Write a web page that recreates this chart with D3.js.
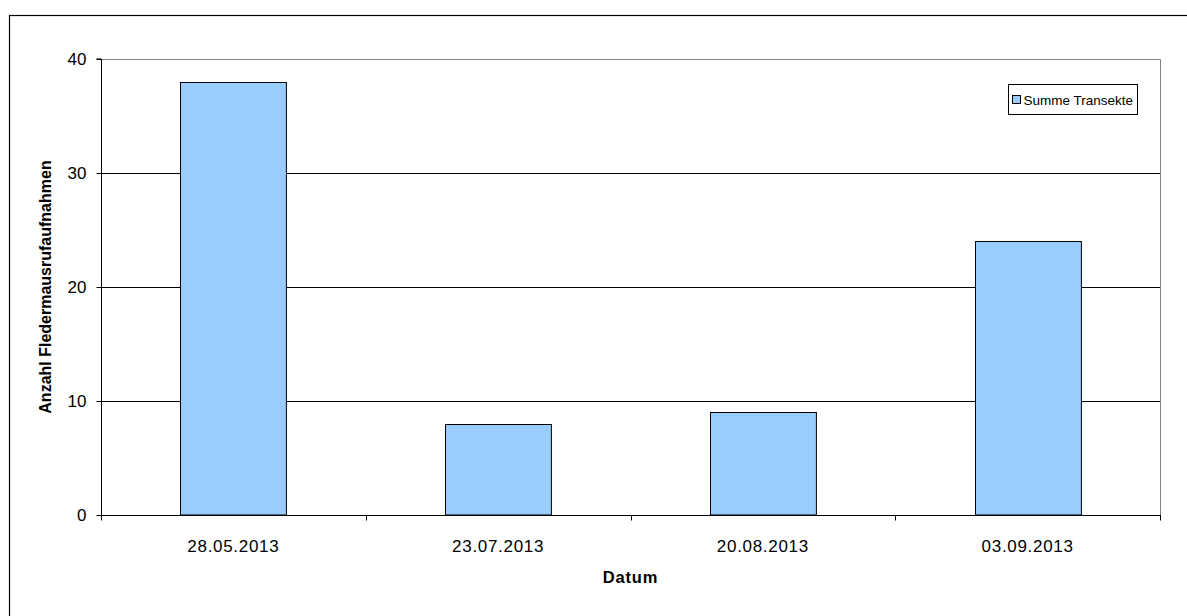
<!DOCTYPE html>
<html>
<head>
<meta charset="utf-8">
<script src="https://cdn.jsdelivr.net/npm/d3@7"></script>
<style>
  html, body { margin: 0; padding: 0; background: #fff; }
  svg { display: block; font-family: Arial, "Liberation Sans", sans-serif; }
</style>
</head>
<body>
<svg id="chart" width="1187" height="616"></svg>
<script>
// Recording dates and summed bat call counts across all transects
const dates = ["28.05.2013", "23.07.2013", "20.08.2013", "03.09.2013"];
const counts = [38, 8, 9, 24];
const yTicks = [0, 10, 20, 30, 40];
const seriesName = "Summe Transekte";
const xTitle = "Datum";
const yTitle = "Anzahl Fledermausrufaufnahmen";

const svg = d3.select("#chart");

// Outer chart frame (continues past the right and bottom edges)
svg.append("rect")
  .attr("x", 9.5).attr("y", 15.5)
  .attr("width", 1200).attr("height", 620)
  .attr("fill", "#fff").attr("stroke", "#000").attr("stroke-width", 1.2);

const plot = { left: 101, right: 1160, top: 59, bottom: 515 };

const xCat = d3.scaleBand().domain(dates).range([plot.left, plot.right]);
const y = d3.scaleLinear().domain([0, 40]).range([plot.bottom, plot.top]);

// Plot area border (top & right in gray)
svg.append("path")
  .attr("d", `M${plot.left},${plot.top + 0.5}H${plot.right + 0.5}V${plot.bottom}`)
  .attr("fill", "none").attr("stroke", "#808080").attr("stroke-width", 1);

// Horizontal gridlines
svg.append("g")
  .selectAll("line")
  .data(yTicks.filter(d => d > 0 && d < 40))
  .join("line")
  .attr("x1", plot.left).attr("x2", plot.right)
  .attr("y1", d => Math.round(y(d)) + 0.5).attr("y2", d => Math.round(y(d)) + 0.5)
  .attr("stroke", "#000").attr("stroke-width", 1);

// Bars (bar width = 40% of category, gap width 150%)
svg.append("g")
  .selectAll("rect")
  .data(counts)
  .join("rect")
  .attr("x", (d, i) => Math.round(xCat(dates[i]) + xCat.bandwidth() * 0.3) + 0.5)
  .attr("y", d => Math.round(y(d)) + 0.5)
  .attr("width", xCat.bandwidth() * 0.4)
  .attr("height", d => y(0) - Math.round(y(d)) - 0.5)
  .attr("fill", "#99ccff")
  .attr("stroke", "#000").attr("stroke-width", 1);

// Y axis
const yAxis = svg.append("g")
  .attr("transform", `translate(${plot.left + 0.5},0)`)
  .call(d3.axisLeft(y).tickValues(yTicks).tickSize(5).tickPadding(10).tickFormat(d3.format("d")));
yAxis.select(".domain").attr("d", `M-5,${plot.top}H0V${plot.bottom + 5}`).attr("stroke", "#000");
yAxis.selectAll("text").attr("font-size", 17).attr("fill", "#000")
  .attr("font-family", "Arial, 'Liberation Sans', sans-serif");
yAxis.selectAll(".tick line").attr("stroke", "#000");

// X axis with ticks between categories
const xAxis = svg.append("g")
  .attr("transform", `translate(0,${plot.bottom + 0.5})`);
xAxis.append("line")
  .attr("x1", plot.left).attr("x2", plot.right + 1)
  .attr("stroke", "#000");
const boundaries = dates.map(d => xCat(d)).concat([plot.right]);
xAxis.selectAll("line.tick")
  .data(boundaries)
  .join("line").attr("class", "tick")
  .attr("x1", d => Math.round(d) + 0.5).attr("x2", d => Math.round(d) + 0.5)
  .attr("y1", 0).attr("y2", 5)
  .attr("stroke", "#000");
xAxis.selectAll("text")
  .data(dates)
  .join("text")
  .attr("x", d => xCat(d) + xCat.bandwidth() / 2)
  .attr("y", 36)
  .attr("text-anchor", "middle")
  .attr("font-size", 17)
  .attr("letter-spacing", 0.7)
  .text(d => d);

// Axis titles
svg.append("text")
  .attr("x", (plot.left + plot.right) / 2)
  .attr("y", 583)
  .attr("text-anchor", "middle")
  .attr("font-size", 16.5).attr("font-weight", "bold")
  .attr("letter-spacing", 0.8)
  .text(xTitle);

svg.append("text")
  .attr("transform", `translate(51,${(plot.top + plot.bottom) / 2}) rotate(-90)`)
  .attr("text-anchor", "middle")
  .attr("font-size", 16).attr("font-weight", "bold")
  .text(yTitle);

// Legend
const legend = svg.append("g").attr("transform", "translate(1008.5,84.5)");
legend.append("rect")
  .attr("width", 129).attr("height", 30)
  .attr("fill", "#fff").attr("stroke", "#000").attr("stroke-width", 1);
legend.append("rect")
  .attr("x", 4).attr("y", 11).attr("width", 8).attr("height", 8)
  .attr("fill", "#99ccff").attr("stroke", "#000").attr("stroke-width", 1);
legend.append("text")
  .attr("x", 15).attr("y", 20.5)
  .attr("font-size", 13.5)
  .text(seriesName);
</script>
</body>
</html>
